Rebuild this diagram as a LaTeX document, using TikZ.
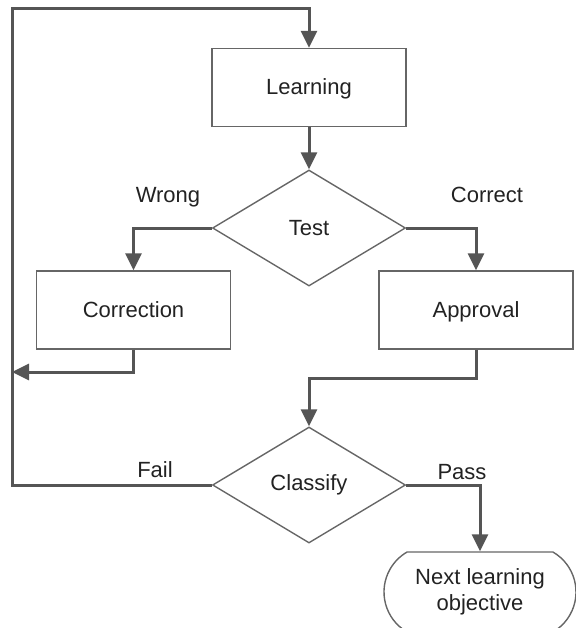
\documentclass[tikz,border=0pt]{standalone}
\usepackage{fontspec}
\setmainfont{Liberation Sans}
\usetikzlibrary{arrows.meta,shapes.geometric,shapes.misc}
\definecolor{linegray}{HTML}{555555}
\definecolor{boxgray}{HTML}{666666}
\definecolor{txt}{HTML}{222222}
\tikzset{
  procbox/.style={draw=boxgray, line width=0.7pt, rectangle, minimum width=97pt, minimum height=39pt, inner sep=0pt, text height=8pt, text depth=1pt, text=txt, font=\fontsize{11}{13}\selectfont},
  decbox/.style={draw=boxgray, line width=0.7pt, diamond, minimum width=96.5pt, minimum height=58pt, inner sep=0pt, text=txt, font=\fontsize{11}{13}\selectfont},
  termbox/.style={draw=boxgray, line width=0.7pt, rounded rectangle, rounded rectangle arc length=120, minimum width=96pt, minimum height=40pt, inner sep=0pt, align=center, text=txt, font=\fontsize{11}{13}\selectfont},
  flow/.style={draw=linegray, line width=1.5pt, -{Triangle[length=8.5pt,width=8pt]}},
  lbl/.style={text=txt, font=\fontsize{11}{13}\selectfont, inner sep=0pt},
}
\begin{document}
\begin{tikzpicture}[x=0.5pt,y=-0.5pt]
\useasboundingbox (0,0) rectangle (575,628);
\node[procbox] (learn) at (309,87.5) {Learning};
\node[decbox] (test) at (309,228) {Test};
\node[procbox] (corr) at (133.5,310) {Correction};
\node[procbox] (appr) at (476,310) {Approval};
\node[decbox] (cls) at (309,485) {Classify};
\node[termbox] (next) at (480,592) {Next learning\\objective};

\coordinate (tl) at (12,8);
\coordinate (ret) at (12,372);
\coordinate (mid) at (476,378);

\node[lbl] (lwrong) at (168,197) {Wrong};
\node[lbl] (lcorrect) at (487,195) {Correct};
\node[lbl] (lfail) at (155,470) {Fail};
\node[lbl] (lpass) at (462,472) {Pass};

\draw[flow] (learn.south) -- (test.north);
\draw[flow] (test.west) -| (corr.north);
\draw[flow] (test.east) -| (appr.north);
\draw[flow] (corr.south) |- (ret);
\draw[flow] (appr.south) -- (mid) -| (cls.north);
\draw[flow] (cls.east) -| (next.north);
\draw[flow] (cls.west) -| (tl) -| (learn.north);
\end{tikzpicture}
\end{document}
